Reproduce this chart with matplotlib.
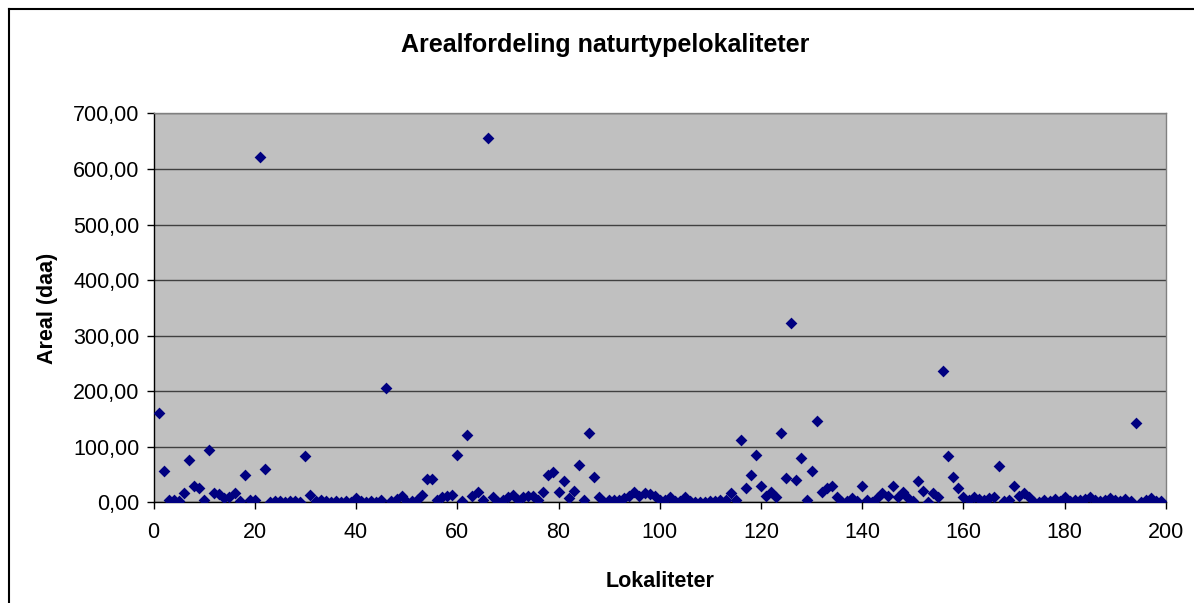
import numpy as np
import matplotlib
matplotlib.use("Agg")
import matplotlib.pyplot as plt
from matplotlib.ticker import FuncFormatter

# Lokalitet nr (x) og areal i daa (y)
lokalitet = list(range(1, 200))
areal = [
    160, 56, 4, 4, 3, 17, 77, 30, 25, 5,
    95, 17, 15, 7, 9, 17, 2, 49, 5, 4,
    622, 60, 1, 2, 3, 1, 2, 3, 1, 83,
    13, 3, 5, 2, 1, 2, 1, 2, 1, 7,
    2, 1, 2, 1, 5, 205, 3, 6, 12, 1,
    2, 5, 13, 42, 42, 5, 9, 12, 13, 86,
    2, 121, 11, 19, 5, 655, 9, 0, 5, 9,
    13, 5, 9, 12, 12, 5, 18, 49, 55, 18,
    38, 7, 21, 68, 5, 124, 46, 9, 1, 5,
    5, 5, 7, 12, 18, 12, 17, 15, 12, 5,
    5, 9, 3, 3, 9, 3, 1, 1, 1, 3,
    3, 4, 4, 17, 4, 113, 26, 49, 86, 29,
    12, 18, 9, 124, 44, 322, 40, 79, 5, 56,
    146, 18, 26, 30, 9, 1, 3, 8, 3, 29,
    5, 0, 8, 17, 12, 30, 9, 18, 8, 3,
    38, 20, 1, 17, 9, 236, 83, 45, 26, 10,
    5, 9, 6, 4, 7, 9, 65, 3, 4, 30,
    12, 16, 9, 1, 1, 4, 2, 6, 3, 10,
    3, 5, 4, 6, 10, 5, 3, 4, 8, 5,
    3, 6, 2, 142, 1, 5, 8, 3, 2,
]

x_ticks = np.arange(0, 201, 20)
y_ticks = np.arange(0, 701, 100)

plt.rcParams['font.family'] = ['Liberation Sans', 'DejaVu Sans']

fig = plt.figure(figsize=(11.94, 6.03), dpi=100)
ax = fig.add_axes([0.1286, 0.167, 0.8479, 0.6448])

ax.set_facecolor('#C0C0C0')
ax.scatter(lokalitet, areal, marker='D', s=36, c='#000080', linewidths=0, zorder=3)

ax.set_xlim(0, 200)
ax.set_ylim(0, 700)
ax.set_xticks(x_ticks)
ax.set_yticks(y_ticks)
ax.yaxis.set_major_formatter(FuncFormatter(lambda v, p: ("%.2f" % v).replace('.', ',')))
ax.tick_params(axis='both', labelsize=15.5, length=5, width=1, color='black')
ax.tick_params(axis='x', pad=9)
ax.tick_params(axis='y', pad=5)

ax.grid(axis='y', color='#404040', linewidth=1, zorder=1)
ax.set_axisbelow(True)

for side in ['top', 'right']:
    ax.spines[side].set_color('#808080')
    ax.spines[side].set_linewidth(1)
for side in ['left', 'bottom']:
    ax.spines[side].set_color('black')
    ax.spines[side].set_linewidth(1)

ax.set_xlabel('Lokaliteter', fontsize=15.5, fontweight='bold', labelpad=20)
ax.set_ylabel('Areal (daa)', fontsize=15.5, fontweight='bold', labelpad=11)

fig.text(0.507, 0.925, 'Arealfordeling naturtypelokaliteter', fontsize=18,
         fontweight='bold', ha='center', va='center')

# ytre ramme (venstre og topp synlig)
fig.add_artist(plt.Line2D([9 / 1194, 9 / 1194], [0, 1 - 9 / 603], color='black', lw=1.5))
fig.add_artist(plt.Line2D([9 / 1194, 1], [1 - 9 / 603, 1 - 9 / 603], color='black', lw=1.5))

fig.savefig('out.png', dpi=100)
plt.close()
